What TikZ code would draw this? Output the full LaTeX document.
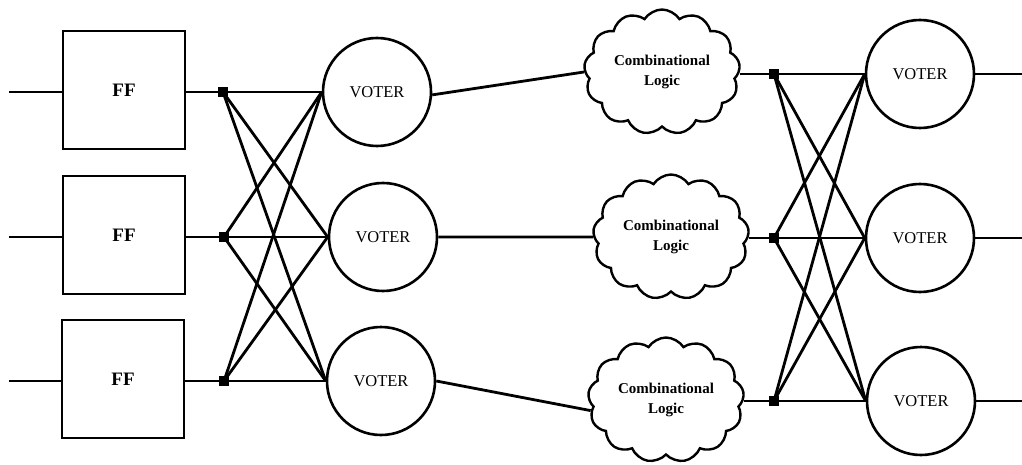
\documentclass[tikz,border=0pt]{standalone}
\usepackage{fontspec}
\setmainfont{Liberation Serif}
\usetikzlibrary{shapes.symbols}
\begin{document}
\begin{tikzpicture}[x=1pt,y=-1pt,
  wire/.style={line width=2.8pt},
  ffbox/.style={draw,line width=2.8pt,minimum width=122pt,minimum height=118pt,font=\fontsize{19}{21}\selectfont\bfseries},
  voter/.style={draw,circle,line width=2.6pt,minimum size=108pt,inner sep=0pt,font=\fontsize{16.5}{18}\selectfont},
  logic/.style={draw,cloud,cloud puffs=13,cloud puff arc=115,aspect=1.25,line width=2.4pt,minimum width=156pt,minimum height=125pt,inner sep=0pt,align=center,font=\fontsize{15}{20}\selectfont\bfseries},
  junc/.style={fill=black,minimum size=10pt,inner sep=0pt}
]
\useasboundingbox (0,0) rectangle (1022,465);
% inputs
\coordinate (i1) at (9,92);
\coordinate (i2) at (9,237);
\coordinate (i3) at (9,381);
% flip-flops
\node[ffbox] (f1) at (124,90) {FF};
\node[ffbox] (f2) at (124,235) {FF};
\node[ffbox] (f3) at (123,379) {FF};
% left junctions
\node[junc] (j1) at (223,92) {};
\node[junc] (j2) at (224,237) {};
\node[junc] (j3) at (224,381) {};
% left voters
\node[voter] (v1) at (377,92) {VOTER};
\node[voter] (v2) at (383,237) {VOTER};
\node[voter] (v3) at (381,381) {VOTER};
% clouds
\node[logic] (c1) at (662,72) {Combinational\\Logic};
\node[logic] (c2) at (671,237) {Combinational\\Logic};
\node[logic] (c3) at (666,400) {Combinational\\Logic};
% right junctions
\node[junc] (k1) at (774,74) {};
\node[junc] (k2) at (774,238) {};
\node[junc] (k3) at (774,401) {};
% right voters
\node[voter] (w1) at (920,74) {VOTER};
\node[voter] (w2) at (920,238) {VOTER};
\node[voter] (w3) at (921,401) {VOTER};
% outputs
\coordinate (o1) at (1022,74);
\coordinate (o2) at (1022,238);
\coordinate (o3) at (1022,401);
% wires
\draw[wire] (i1) -- (f1.west |- i1);
\draw[wire] (i2) -- (f2.west |- i2);
\draw[wire] (i3) -- (f3.west |- i3);
\draw[wire] (f1.east |- j1) -- (j1);
\draw[wire] (f2.east |- j2) -- (j2);
\draw[wire] (f3.east |- j3) -- (j3);
\foreach \a in {j1,j2,j3}{
  \foreach \b in {v1,v2,v3}{
    \draw[wire] (\a.center) -- (\b.west);
  }
}
\draw[wire] (v1.-3) -- (c1.west);
\draw[wire] (v2.east) -- (c2.west);
\draw[wire] (v3.east) -- (c3.188);
\draw[wire] (c1.east |- k1) -- (k1);
\draw[wire] (c2.east |- k2) -- (k2);
\draw[wire] (c3.east |- k3) -- (k3);
\foreach \a in {k1,k2,k3}{
  \foreach \b in {w1,w2,w3}{
    \draw[wire] (\a.center) -- (\b.west);
  }
}
\draw[wire] (w1.east) -- (o1);
\draw[wire] (w2.east) -- (o2);
\draw[wire] (w3.east) -- (o3);
\end{tikzpicture}
\end{document}
